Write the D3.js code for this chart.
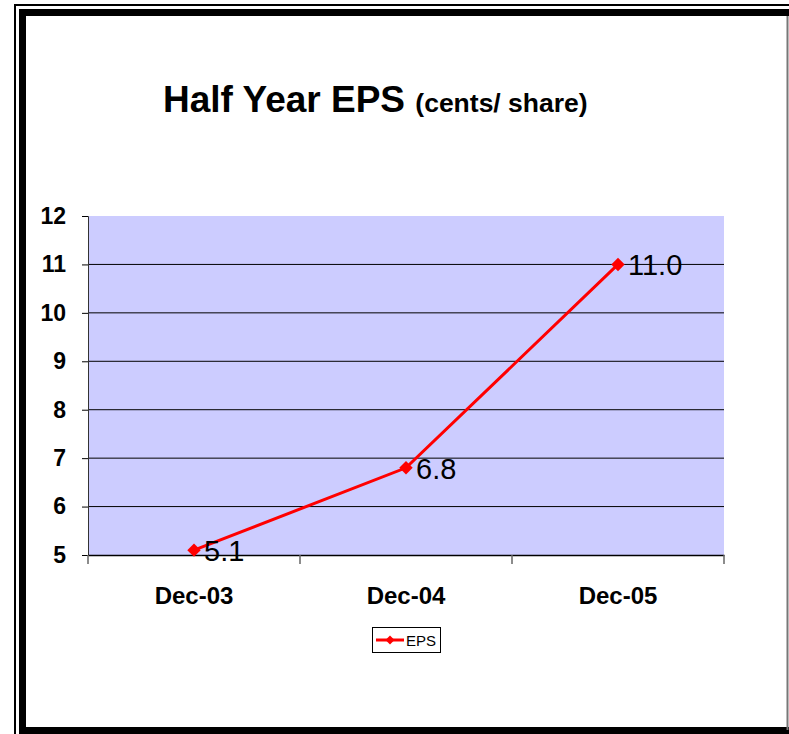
<!DOCTYPE html>
<html><head><meta charset="utf-8">
<script src="https://cdn.jsdelivr.net/npm/d3@7"></script>
<style>body{margin:0;background:#fff}svg{display:block}</style>
</head><body>
<script>
const categories = ["Dec-03", "Dec-04", "Dec-05"];
const epsValues = [5.1, 6.8, 11.0];
const yTicks = [5, 6, 7, 8, 9, 10, 11, 12];
const seriesName = "EPS";

const W = 789, H = 734;
const svg = d3.select("body").append("svg").attr("width", W).attr("height", H);
const font = "Arial, 'Liberation Sans', sans-serif";

// frame
svg.append("rect").attr("x", 15).attr("y", 5).attr("width", 790).attr("height", 740)
  .attr("fill", "none").attr("stroke", "#000").attr("stroke-width", 2);
svg.append("rect").attr("x", 22.5).attr("y", 12.5).attr("width", 790).attr("height", 718)
  .attr("fill", "none").attr("stroke", "#000").attr("stroke-width", 7);
svg.append("line").attr("x1", 787.5).attr("x2", 787.5).attr("y1", 16).attr("y2", 730)
  .attr("stroke", "#777").attr("stroke-width", 2);

const plot = {l: 88, r: 724, t: 216, b: 555};
const x = d3.scaleBand().domain(categories).range([plot.l, plot.r]);
const y = d3.scaleLinear().domain([5, 12]).range([plot.b, plot.t]);

svg.append("rect").attr("x", plot.l).attr("y", plot.t)
  .attr("width", plot.r - plot.l).attr("height", plot.b - plot.t).attr("fill", "#CCCCFF");

// gridlines
svg.append("g").selectAll("line").data(yTicks.filter(d => d > 5 && d < 12)).join("line")
  .attr("x1", plot.l).attr("x2", plot.r).attr("y1", d => y(d)).attr("y2", d => y(d))
  .attr("stroke", "#000").attr("stroke-width", 1);

// y axis
const yAxis = svg.append("g").attr("transform", `translate(${plot.l},0)`)
  .call(d3.axisLeft(y).tickValues(yTicks).tickSize(6).tickPadding(16).tickFormat(d3.format("d")));
yAxis.select(".domain").attr("stroke", "#333");
yAxis.selectAll(".tick line").attr("stroke", "#000");
yAxis.selectAll("text").attr("font-family", font).attr("font-size", 23).attr("font-weight", "bold").attr("fill", "#000");

// x axis
const xAxis = svg.append("g").attr("transform", `translate(0,${plot.b})`)
  .call(d3.axisBottom(x).tickSize(0).tickPadding(32));
xAxis.select(".domain").attr("stroke", "#000").attr("stroke-width", 1.5);
xAxis.selectAll("text").attr("font-family", font).attr("font-size", 24).attr("font-weight", "bold").attr("fill", "#000");
const bounds = categories.map(c => x(c)).concat([plot.r]);
svg.append("g").selectAll("line").data(bounds).join("line")
  .attr("x1", d => d).attr("x2", d => d).attr("y1", plot.b).attr("y2", plot.b + 9)
  .attr("stroke", "#666").attr("stroke-width", 1.5);

// series line
const pts = categories.map((c, i) => [x(c) + x.bandwidth() / 2, y(epsValues[i])]);
svg.append("path").attr("d", d3.line()(pts)).attr("fill", "none")
  .attr("stroke", "#FF0000").attr("stroke-width", 3);
const diamond = d3.symbol().type(d3.symbolSquare).size(90);
svg.append("g").selectAll("path").data(pts).join("path")
  .attr("transform", d => `translate(${d[0]},${d[1]}) rotate(45)`).attr("d", diamond).attr("fill", "#FF0000");

// data labels
svg.append("g").selectAll("text").data(pts).join("text")
  .attr("x", d => d[0] + 10).attr("y", d => d[1] + 11)
  .attr("font-family", font).attr("font-size", 29).attr("fill", "#000")
  .text((d, i) => epsValues[i].toFixed(1));

// title
const title = svg.append("text").attr("x", 163).attr("y", 112)
  .attr("font-family", font).attr("font-weight", "bold").attr("fill", "#000");
title.append("tspan").attr("font-size", 37).text("Half Year EPS ");
title.append("tspan").attr("font-size", 26.5).text("(cents/ share)");

// legend
const lg = svg.append("g");
lg.append("rect").attr("x", 372.5).attr("y", 627.5).attr("width", 68).attr("height", 25)
  .attr("fill", "#fff").attr("stroke", "#000").attr("stroke-width", 1);
lg.append("line").attr("x1", 376).attr("x2", 404).attr("y1", 640).attr("y2", 640)
  .attr("stroke", "#FF0000").attr("stroke-width", 3);
lg.append("path").attr("transform", "translate(390,640) rotate(45)").attr("d", d3.symbol().type(d3.symbolSquare).size(40)).attr("fill", "#FF0000");
lg.append("text").attr("x", 406).attr("y", 646).attr("font-family", font).attr("font-size", 15).attr("fill", "#000").text(seriesName);
</script>
</body></html>
